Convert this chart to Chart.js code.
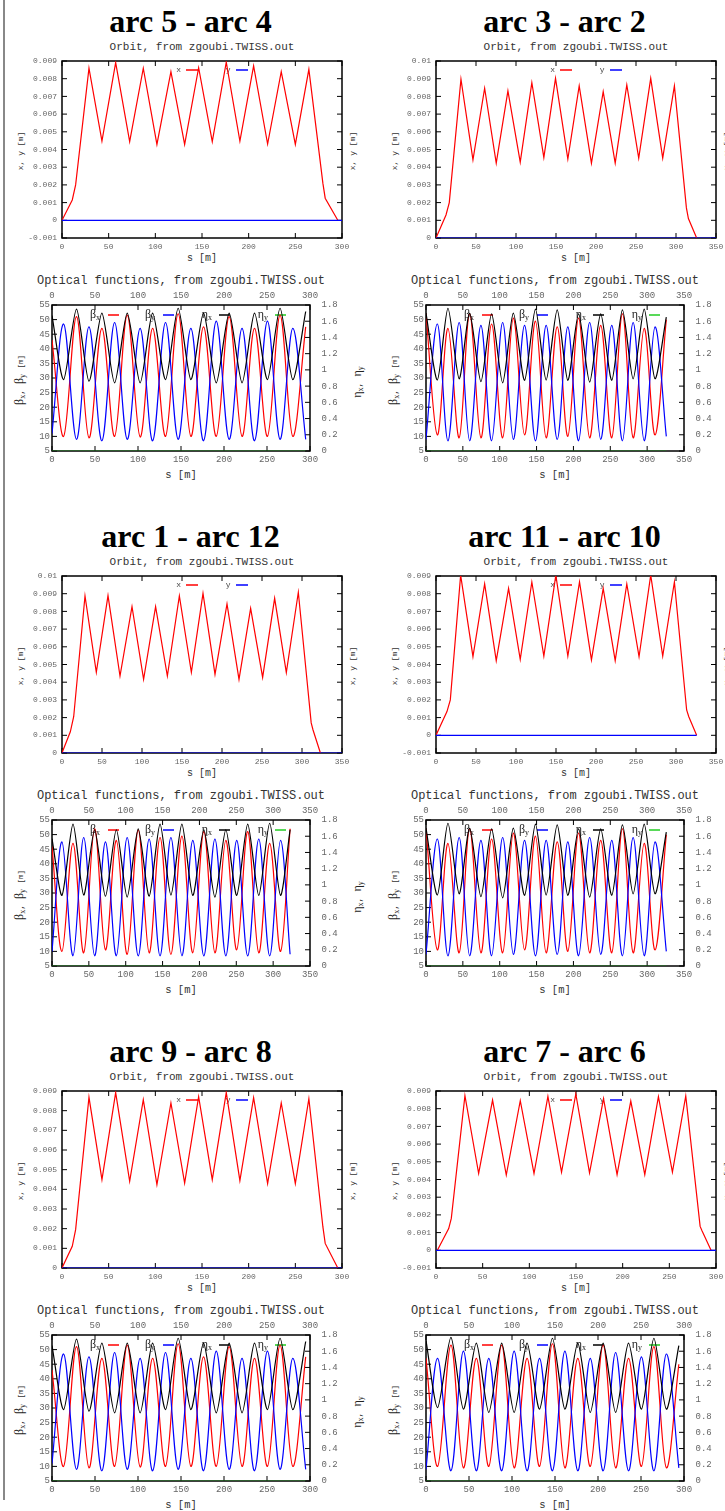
<!DOCTYPE html>
<html><head><meta charset="utf-8">
<script src="https://cdn.jsdelivr.net/npm/chart.js@4.4.0/dist/chart.umd.min.js"></script>
<style>
html,body{margin:0;padding:0;background:#fff;overflow:hidden;}
body{width:725px;height:1511px;position:relative;}
.title{position:absolute;width:300px;text-align:center;font-family:"Liberation Serif","Times New Roman",serif;font-weight:bold;font-size:32px;line-height:32px;color:#000;white-space:nowrap;}
.sub{position:absolute;width:340px;text-align:center;font-family:"Liberation Mono",monospace;color:#333;white-space:nowrap;}
.lab{position:absolute;white-space:nowrap;font-family:"Liberation Mono",monospace;color:#333;line-height:1;transform:translate(-50%,-50%);}
.rot{transform:translate(-50%,-50%) rotate(-90deg);}
.gk{font-family:"Liberation Serif","Times New Roman",serif;font-size:12px;color:#222;}
.gk sub{font-size:8px;vertical-align:-2px;line-height:0;}
.sm{font-size:7.5px;}
canvas{position:absolute;}
</style></head><body>
<div style="position:absolute;left:3px;top:0;width:2px;height:1500px;background:#888"></div>
<script>
// ---------------- tick values and labels ----------------
const orbitTicksA  = [-0.001, 0, 0.001, 0.002, 0.003, 0.004, 0.005, 0.006, 0.007, 0.008, 0.009];
const orbitLabelsA = ['-0.001','0','0.001','0.002','0.003','0.004','0.005','0.006','0.007','0.008','0.009'];
const orbitTicksB  = [0, 0.001, 0.002, 0.003, 0.004, 0.005, 0.006, 0.007, 0.008, 0.009, 0.01];
const orbitLabelsB = ['0','0.001','0.002','0.003','0.004','0.005','0.006','0.007','0.008','0.009','0.01'];
const orbitTicksC  = [0, 0.001, 0.002, 0.003, 0.004, 0.005, 0.006, 0.007, 0.008, 0.009];
const orbitLabelsC = ['0','0.001','0.002','0.003','0.004','0.005','0.006','0.007','0.008','0.009'];
const sTicks300  = [0, 50, 100, 150, 200, 250, 300];
const sLabels300 = ['0','50','100','150','200','250','300'];
const sTicks350  = [0, 50, 100, 150, 200, 250, 300, 350];
const sLabels350 = ['0','50','100','150','200','250','300','350'];
const betaTicks  = [5, 10, 15, 20, 25, 30, 35, 40, 45, 50, 55];
const betaLabels = ['5','10','15','20','25','30','35','40','45','50','55'];
const etaTicks   = [0, 0.2, 0.4, 0.6, 0.8, 1, 1.2, 1.4, 1.6, 1.8];
const etaLabels  = ['0','0.2','0.4','0.6','0.8','1','1.2','1.4','1.6','1.8'];

// ---------------- arc 5 - arc 4 ----------------
const arc54_orbit_s = [0, 11, 14.6, 28.9, 42.8, 57.5, 72.5, 87.1, 101.7, 116.7, 131.4, 146.4, 161, 176, 190.6, 205.3, 220.3, 234.9, 250, 264.5, 279.5, 282, 295.5];
const arc54_orbit_x = [0, 0.00115, 0.002, 0.00859, 0.00448, 0.00891, 0.00444, 0.00859, 0.00429, 0.0084, 0.00429, 0.00862, 0.00444, 0.00893, 0.00448, 0.00872, 0.00431, 0.0084, 0.00429, 0.00853, 0.0021, 0.00125, 0];
const arc54_orbit_y_s = [0, 300];
const arc54_orbit_y = [0, 0];
const arc54_opt_s = [0, 13.5, 28.5, 43, 58, 72.8, 87.5, 102.5, 117, 132, 146.7, 161.5, 176.2, 191, 206, 221, 235.5, 250.5, 265.2, 280, 295];
const arc54_bx = [43, 10, 51, 9.5, 47, 10, 51.5, 9.8, 47, 10, 52, 10, 47.5, 10, 51, 10, 47, 10, 51.5, 10, 47.5];
const arc54_by = [11, 48.5, 9, 47.5, 8.5, 49, 9, 47, 8.5, 49, 9, 47, 8.5, 49.5, 9, 47, 8.5, 49.5, 9, 47, 9];
const arc54_ex = [1.67, 0.88, 1.75, 0.86, 1.70, 0.84, 1.70, 0.84, 1.70, 0.88, 1.76, 0.88, 1.70, 0.84, 1.70, 0.84, 1.70, 0.88, 1.76, 0.88, 1.72];
const arc54_ey_s = [0, 295];
const arc54_ey = [0, 0];

// ---------------- arc 3 - arc 2 ----------------
const arc32_orbit_s = [0, 12.5, 16.6, 31.2, 46.2, 60.8, 75.3, 89.9, 105.3, 119.8, 134.8, 149.4, 164.8, 179, 194.3, 209, 224, 238.5, 253.4, 268.4, 283.4, 298, 313, 315.5, 325.8];
const arc32_orbit_x = [0, 0.0013, 0.002, 0.00897, 0.00442, 0.00846, 0.00423, 0.00831, 0.00429, 0.00878, 0.00455, 0.00902, 0.00446, 0.00859, 0.00423, 0.00827, 0.00423, 0.00865, 0.00451, 0.00902, 0.00451, 0.00859, 0.0017, 0.0011, 0];
const arc32_orbit_y_s = [0, 350];
const arc32_orbit_y = [0, 0];
const arc32_opt_s = [0, 15.4, 29.8, 45, 59.2, 74.5, 89, 104, 118.5, 133.7, 148.5, 163, 178, 192.4, 207, 222, 237, 252, 266.5, 281, 296, 310.7, 326];
const arc32_bx = [52, 10.5, 47, 9.5, 52, 9.5, 48.5, 9.5, 50.5, 10.5, 49.5, 9.5, 47.5, 10, 50.5, 9.5, 48, 9.5, 52, 9.5, 47, 10.5, 50];
const arc32_by = [9, 48.5, 8.5, 49, 8.5, 48, 8.5, 49, 9, 48, 8.5, 48, 9, 47.5, 8.5, 49, 9, 48, 8.5, 49, 8.5, 47.5, 10];
const arc32_ex = [1.70, 0.875, 1.76, 0.89, 1.70, 0.855, 1.69, 0.84, 1.70, 0.87, 1.75, 0.875, 1.74, 0.87, 1.69, 0.85, 1.69, 0.87, 1.74, 0.89, 1.75, 0.89, 1.65];
const arc32_ey_s = [0, 326];
const arc32_ey = [0, 0];

// ---------------- arc 1 - arc 12 ----------------
const arc112_orbit_s = [0, 10.4, 14.6, 28.75, 42.9, 57.5, 72.5, 87.5, 102, 117, 131.7, 146.7, 161.7, 176.25, 191.25, 206.25, 221.25, 235.8, 250.8, 265.8, 280.4, 295.4, 311.5, 313.8, 323];
const arc112_orbit_x = [0, 0.0012, 0.00205, 0.00887, 0.00456, 0.00889, 0.00435, 0.00827, 0.00416, 0.00827, 0.00435, 0.00887, 0.00456, 0.00902, 0.00444, 0.00842, 0.00416, 0.00817, 0.00427, 0.00874, 0.00454, 0.00908, 0.0017, 0.0013, 0];
const arc112_orbit_y_s = [0, 350];
const arc112_orbit_y = [0, 0];
const arc112_opt_s = [0, 13.5, 28.5, 43, 57.8, 72.5, 87.3, 102, 117, 131.8, 146.6, 161.3, 176.2, 191, 206, 221, 235.8, 250.6, 265.5, 280.5, 295.3, 310, 323];
const arc112_bx = [46, 10, 47, 9.5, 52, 10.5, 48, 9, 51.5, 9.5, 49, 9, 49.5, 9.5, 51, 9.5, 48, 10.5, 51, 9.5, 47, 10, 52];
const arc112_by = [10, 47.5, 8.5, 49, 8.5, 47.5, 8.5, 49, 8.5, 48.5, 8.5, 49, 8.5, 48, 8.5, 48.5, 8.5, 48, 8.5, 48.5, 8.5, 48, 9];
const arc112_ex = [1.57, 0.87, 1.75, 0.875, 1.68, 0.86, 1.68, 0.85, 1.69, 0.86, 1.75, 0.875, 1.75, 0.87, 1.68, 0.85, 1.68, 0.87, 1.75, 0.87, 1.76, 0.87, 1.68];
const arc112_ey_s = [0, 323];
const arc112_ey = [0, 0];

// ---------------- arc 11 - arc 10 ----------------
const arc1110_orbit_s = [0, 13.7, 17.9, 30.8, 46.2, 60.8, 75.3, 90.7, 105.3, 119.8, 134.8, 149.8, 164.8, 179.4, 194.3, 209, 224, 238.5, 253.8, 268.4, 283.4, 298, 313.3, 316, 325.8];
const arc1110_orbit_x = [0, 0.00134, 0.002, 0.00905, 0.00444, 0.00855, 0.00422, 0.0083, 0.00429, 0.00866, 0.00448, 0.00905, 0.00448, 0.00866, 0.00426, 0.0083, 0.00422, 0.00855, 0.00444, 0.00905, 0.00448, 0.00866, 0.00143, 0.00105, 0];
const arc1110_orbit_y_s = [0, 325.8];
const arc1110_orbit_y = [0, 0];
const arc1110_opt_s = arc32_opt_s;   // optical functions read identical to arc 3 - arc 2
const arc1110_bx = arc32_bx;
const arc1110_by = arc32_by;
const arc1110_ex = arc32_ex;
const arc1110_ey_s = [0, 326];
const arc1110_ey = [0, 0];

// ---------------- arc 9 - arc 8 ----------------
const arc98_orbit_s = [0, 11, 14.6, 28.9, 42.8, 57.5, 72.5, 87.1, 101.7, 116.7, 131.4, 146.4, 161, 176, 190.6, 205.3, 220.3, 234.9, 250, 264.5, 279.5, 282, 295.5];
const arc98_orbit_x = [0, 0.0011, 0.00195, 0.00868, 0.00449, 0.00892, 0.00441, 0.00856, 0.00424, 0.00839, 0.00432, 0.00871, 0.00449, 0.00892, 0.00444, 0.00866, 0.00429, 0.00839, 0.00429, 0.00861, 0.0021, 0.00125, 0];
const arc98_orbit_y_s = [0, 300];
const arc98_orbit_y = [0, 0];
const arc98_opt_s = arc54_opt_s;     // optical functions read identical to arc 5 - arc 4
const arc98_bx = arc54_bx;
const arc98_by = arc54_by;
const arc98_ex = arc54_ex;
const arc98_ey_s = [0, 295];
const arc98_ey = [0, 0];

// ---------------- arc 7 - arc 6 ----------------
const arc76_orbit_s = [1.5, 13.6, 16.4, 31, 45.7, 60.6, 75.3, 90.3, 105, 119.9, 134.5, 149.8, 164.5, 179.5, 194, 208.7, 223.7, 238.3, 253.3, 267.6, 283, 285, 294.7];
const arc76_orbit_x = [0, 0.00123, 0.0018, 0.00874, 0.00434, 0.00849, 0.00425, 0.00845, 0.00434, 0.0087, 0.00442, 0.00883, 0.00438, 0.00857, 0.00428, 0.00843, 0.00428, 0.00868, 0.00442, 0.00872, 0.00135, 0.0011, 0];
const arc76_orbit_y_s = [0, 300];
const arc76_orbit_y = [0, 0];
const arc76_opt_s = [0, 13.5, 29, 43.5, 58.5, 73, 88, 102.5, 117.5, 132, 147, 161.5, 176.5, 191, 206, 220.5, 235.5, 250.5, 265, 279.5, 294];
const arc76_bx = [47, 10, 51.5, 9.5, 47, 10, 51.5, 9.5, 47, 10, 52, 9.5, 47, 10, 51.5, 9.5, 47, 10, 51, 9.5, 45];
const arc76_by = [9, 47, 8.5, 49.5, 8.5, 47, 8.5, 49.5, 8.5, 47, 8.5, 49.5, 8.5, 47, 8.5, 49, 8.5, 47.5, 8.5, 48.5, 9.5];
const arc76_ex = [1.73, 0.905, 1.77, 0.885, 1.70, 0.845, 1.70, 0.845, 1.70, 0.885, 1.76, 0.885, 1.70, 0.845, 1.70, 0.845, 1.70, 0.885, 1.76, 0.885, 1.67];
const arc76_ey_s = [0, 294];
const arc76_ey = [0, 0];

// ---------------- layout / style (not data) ----------------
const MONO = '"Liberation Mono", "Courier New", monospace';
const SERIF = '"Liberation Serif", "Times New Roman", serif';
const TICKC = '#666';
const ROWOFF = [0, 515, 1030];
const TITLE_CX = [190.5, 564.5];
const ORB = {x: [[62, 342], [436, 716]], top: 61, h: 177, ML: 50, MT: 8, MR: 9, MB: 16};
const OPT = {x: [[52, 310], [426, 684]], top: 305, h: 146, ML: 40, MT: 18, MR: 34, MB: 16};

const ORBIT_LEGEND = [
  {text: 'x', color: '#ff0000', tr: 119, s0: 124, s1: 136},
  {text: 'y', color: '#0000ff', tr: 168.5, s0: 174, s1: 186}
];
const OPT_LEGEND = [
  {text: 'β', sub: 'x', color: '#ff0000', tr: 48, s0: 56, s1: 67},
  {text: 'β', sub: 'y', color: '#0000ff', tr: 103, s0: 111, s1: 122},
  {text: 'η', sub: 'x', color: '#000000', tr: 160, s0: 167, s1: 178},
  {text: 'η', sub: 'y', color: '#22cc22', tr: 216, s0: 223, s1: 234}
];

const panels = [
  {title: 'arc 5 - arc 4', col: 0, row: 0,
   orb: {s: arc54_orbit_s, x: arc54_orbit_x, ys: arc54_orbit_y_s, y: arc54_orbit_y, yt: orbitTicksA, ytl: orbitLabelsA, st: sTicks300, stl: sLabels300},
   opt: {s: arc54_opt_s, bx: arc54_bx, by: arc54_by, ex: arc54_ex, eys: arc54_ey_s, ey: arc54_ey, st: sTicks300, stl: sLabels300}},
  {title: 'arc 3 - arc 2', col: 1, row: 0,
   orb: {s: arc32_orbit_s, x: arc32_orbit_x, ys: arc32_orbit_y_s, y: arc32_orbit_y, yt: orbitTicksB, ytl: orbitLabelsB, st: sTicks350, stl: sLabels350},
   opt: {s: arc32_opt_s, bx: arc32_bx, by: arc32_by, ex: arc32_ex, eys: arc32_ey_s, ey: arc32_ey, st: sTicks350, stl: sLabels350}},
  {title: 'arc 1 - arc 12', col: 0, row: 1,
   orb: {s: arc112_orbit_s, x: arc112_orbit_x, ys: arc112_orbit_y_s, y: arc112_orbit_y, yt: orbitTicksB, ytl: orbitLabelsB, st: sTicks350, stl: sLabels350},
   opt: {s: arc112_opt_s, bx: arc112_bx, by: arc112_by, ex: arc112_ex, eys: arc112_ey_s, ey: arc112_ey, st: sTicks350, stl: sLabels350}},
  {title: 'arc 11 - arc 10', col: 1, row: 1,
   orb: {s: arc1110_orbit_s, x: arc1110_orbit_x, ys: arc1110_orbit_y_s, y: arc1110_orbit_y, yt: orbitTicksA, ytl: orbitLabelsA, st: sTicks350, stl: sLabels350},
   opt: {s: arc1110_opt_s, bx: arc1110_bx, by: arc1110_by, ex: arc1110_ex, eys: arc1110_ey_s, ey: arc1110_ey, st: sTicks350, stl: sLabels350}},
  {title: 'arc 9 - arc 8', col: 0, row: 2,
   orb: {s: arc98_orbit_s, x: arc98_orbit_x, ys: arc98_orbit_y_s, y: arc98_orbit_y, yt: orbitTicksC, ytl: orbitLabelsC, st: sTicks300, stl: sLabels300},
   opt: {s: arc98_opt_s, bx: arc98_bx, by: arc98_by, ex: arc98_ex, eys: arc98_ey_s, ey: arc98_ey, st: sTicks300, stl: sLabels300}},
  {title: 'arc 7 - arc 6', col: 1, row: 2,
   orb: {s: arc76_orbit_s, x: arc76_orbit_x, ys: arc76_orbit_y_s, y: arc76_orbit_y, yt: orbitTicksA, ytl: orbitLabelsA, st: sTicks300, stl: sLabels300},
   opt: {s: arc76_opt_s, bx: arc76_bx, by: arc76_by, ex: arc76_ex, eys: arc76_ey_s, ey: arc76_ey, st: sTicks300, stl: sLabels300}}
];

// ---------------- helpers ----------------
function pts(s, v) { return s.map((si, i) => ({x: si, y: v[i]})); }

function addDiv(html, cls, style) {
  const d = document.createElement('div');
  d.className = cls; d.innerHTML = html;
  Object.assign(d.style, style);
  document.body.appendChild(d);
  return d;
}

function makeCanvas(left, top, w, h) {
  const c = document.createElement('canvas');
  c.width = w; c.height = h;
  c.style.left = left + 'px'; c.style.top = top + 'px';
  c.style.width = w + 'px'; c.style.height = h + 'px';
  document.body.appendChild(c);
  return c;
}

function scaleCfg(pos, vals, labels, size, pad, fitSize) {
  const vertical = (pos === 'left' || pos === 'right');
  return {
    type: 'linear', position: pos, min: vals[0], max: vals[vals.length - 1],
    afterBuildTicks: sc => { sc.ticks = vals.map(v => ({value: v})); },
    afterFit: sc => {
      if (vertical) { sc.width = fitSize; sc.paddingTop = 0; sc.paddingBottom = 0; }
      else { sc.height = fitSize; sc.paddingLeft = 0; sc.paddingRight = 0; }
    },
    ticks: {autoSkip: false, maxRotation: 0, minRotation: 0, padding: pad, color: TICKC,
            font: {family: MONO, size: size}, callback: (v, i) => labels[i]},
    grid: {display: false, drawTicks: false},
    border: {display: false}
  };
}

const framePlugin = {
  id: 'frame',
  beforeDatasetsDraw(chart, args, opts) {
    const {ctx, chartArea: a, scales} = chart;
    ctx.save();
    const L = 5;
    ctx.strokeStyle = '#000'; ctx.lineWidth = 1;
    ctx.beginPath();
    const xs = scales.x;
    xs.ticks.forEach(t => {
      const px = xs.getPixelForValue(t.value);
      ctx.moveTo(px, a.bottom); ctx.lineTo(px, a.bottom - L);
      ctx.moveTo(px, a.top); ctx.lineTo(px, a.top + L);
    });
    const yl = scales.y;
    yl.ticks.forEach(t => {
      const py = yl.getPixelForValue(t.value);
      ctx.moveTo(a.left, py); ctx.lineTo(a.left + L, py);
      if (!scales.y2) { ctx.moveTo(a.right, py); ctx.lineTo(a.right - L, py); }
    });
    if (scales.y2) {
      scales.y2.ticks.forEach(t => {
        const py = scales.y2.getPixelForValue(t.value);
        ctx.moveTo(a.right, py); ctx.lineTo(a.right - L, py);
      });
    }
    ctx.stroke();
    ctx.lineWidth = 1.5;
    ctx.strokeRect(a.left, a.top, a.right - a.left, a.bottom - a.top);
    // key (legend) in gnuplot style, under the curves
    const y = a.top + opts.dy;
    opts.items.forEach(it => {
      ctx.strokeStyle = it.color; ctx.lineWidth = 1.5;
      ctx.beginPath(); ctx.moveTo(a.left + it.s0, y); ctx.lineTo(a.left + it.s1, y); ctx.stroke();
      ctx.fillStyle = '#222'; ctx.textBaseline = 'middle';
      const xr = a.left + it.tr;
      if (it.sub) {
        ctx.font = '8px ' + SERIF; const ws = ctx.measureText(it.sub).width;
        ctx.font = '12px ' + SERIF; const wm = ctx.measureText(it.text).width;
        ctx.textAlign = 'left';
        ctx.fillText(it.text, xr - ws - wm, y);
        ctx.font = '8px ' + SERIF;
        ctx.fillText(it.sub, xr - ws, y + 3);
      } else {
        ctx.font = '8px ' + MONO; ctx.fillStyle = '#444'; ctx.textAlign = 'right';
        ctx.fillText(it.text, xr, y);
      }
    });
    ctx.restore();
  }
};

function baseOptions(scales, legendItems, dy) {
  return {
    responsive: false, animation: false, devicePixelRatio: 1,
    layout: {padding: 0},
    scales: scales,
    plugins: {legend: {display: false}, title: {display: false}, tooltip: {enabled: false},
              frame: {items: legendItems, dy: dy}},
    elements: {point: {radius: 0}}
  };
}

// ---------------- build ----------------
panels.forEach(p => {
  const off = ROWOFF[p.row];
  // title
  addDiv(p.title, 'title', {left: (TITLE_CX[p.col] - 150) + 'px', top: (4.8 + off) + 'px'});

  // ---- orbit chart ----
  const [ol, or] = ORB.x[p.col];
  const ot = ORB.top + off, oh = ORB.h, ocx = (ol + or) / 2;
  addDiv('Orbit, from zgoubi.TWISS.out', 'sub', {left: (ocx - 170) + 'px', top: (41.6 + off) + 'px', fontSize: '11px', lineHeight: '11px'});
  addDiv('x, y [m]', 'lab rot', {left: (ol - 41) + 'px', top: (ot + oh / 2 + 1) + 'px', fontSize: '8px'});
  addDiv('x, y [m]', 'lab rot', {left: (or + 11) + 'px', top: (ot + oh / 2 + 1) + 'px', fontSize: '8px'});
  addDiv('s [m]', 'lab', {left: ocx + 'px', top: (ot + oh + 21) + 'px', fontSize: '10px'});
  const oc = makeCanvas(ol - ORB.ML, ot - ORB.MT, (or - ol) + ORB.ML + ORB.MR, oh + ORB.MT + ORB.MB);
  const o = p.orb;
  const oScales = {
    x: scaleCfg('bottom', o.st, o.stl, 8, 4, ORB.MB),
    y: scaleCfg('left', o.yt, o.ytl, 8, 5, ORB.ML)
  };
  const oOpts = baseOptions(oScales, ORBIT_LEGEND, 9);
  oOpts.layout = {padding: {top: ORB.MT, right: ORB.MR, left: 0, bottom: 0}};
  new Chart(oc, {
    type: 'line',
    data: {datasets: [
      {label: 'y', data: pts(o.ys, o.y), borderColor: '#0000ff', borderWidth: 1.2, pointRadius: 0, tension: 0, xAxisID: 'x', yAxisID: 'y'},
      {label: 'x', data: pts(o.s, o.x), borderColor: '#ff0000', borderWidth: 1.2, pointRadius: 0, tension: 0, xAxisID: 'x', yAxisID: 'y'}
    ]},
    options: oOpts,
    plugins: [framePlugin]
  });

  // ---- optical functions chart ----
  const [pl, pr] = OPT.x[p.col];
  const pt = OPT.top + off, ph = OPT.h, pcx = (pl + pr) / 2;
  addDiv('Optical functions, from zgoubi.TWISS.out', 'sub', {left: (pcx - 170) + 'px', top: (274.5 + off) + 'px', fontSize: '12px', lineHeight: '12px'});
  addDiv('<span class="gk">β<sub>x</sub></span>, <span class="gk">β<sub>y</sub></span> <span class="sm">[m]</span>', 'lab rot',
         {left: (pl - 33) + 'px', top: (pt + 75) + 'px', fontSize: '9px'});
  addDiv('<span class="gk">η<sub>x</sub></span>, <span class="gk">η<sub>y</sub></span>', 'lab rot',
         {left: (pr + 47) + 'px', top: (pt + 77) + 'px', fontSize: '9px'});
  addDiv('s [m]', 'lab', {left: pcx + 'px', top: (pt + ph + 24) + 'px', fontSize: '10.5px'});
  const pc = makeCanvas(pl - OPT.ML, pt - OPT.MT, (pr - pl) + OPT.ML + OPT.MR, ph + OPT.MT + OPT.MB);
  const q = p.opt;
  const pScales = {
    x: scaleCfg('bottom', q.st, q.stl, 9, 3.6, OPT.MB),
    x2: scaleCfg('top', q.st, q.stl, 9, 3.6, OPT.MT),
    y: scaleCfg('left', betaTicks, betaLabels, 9, 2, OPT.ML),
    y2: scaleCfg('right', etaTicks, etaLabels, 9, 11.5, OPT.MR)
  };
  const pOpts = baseOptions(pScales, OPT_LEGEND, 10);
  new Chart(pc, {
    type: 'line',
    data: {datasets: [
      {label: 'eta_y', data: pts(q.eys, q.ey), borderColor: '#1f7a1f', borderWidth: 1.2, pointRadius: 0, tension: 0, xAxisID: 'x', yAxisID: 'y2'},
      {label: 'eta_x', data: pts(q.s, q.ex), borderColor: '#000000', borderWidth: 1.2, pointRadius: 0, tension: 0.25, xAxisID: 'x', yAxisID: 'y2'},
      {label: 'beta_y', data: pts(q.s, q.by), borderColor: '#0000ff', borderWidth: 1.2, pointRadius: 0, tension: 0.35, xAxisID: 'x', yAxisID: 'y'},
      {label: 'beta_x', data: pts(q.s, q.bx), borderColor: '#ff0000', borderWidth: 1.2, pointRadius: 0, tension: 0.35, xAxisID: 'x', yAxisID: 'y'}
    ]},
    options: pOpts,
    plugins: [framePlugin]
  });
});
</script>
</body></html>
